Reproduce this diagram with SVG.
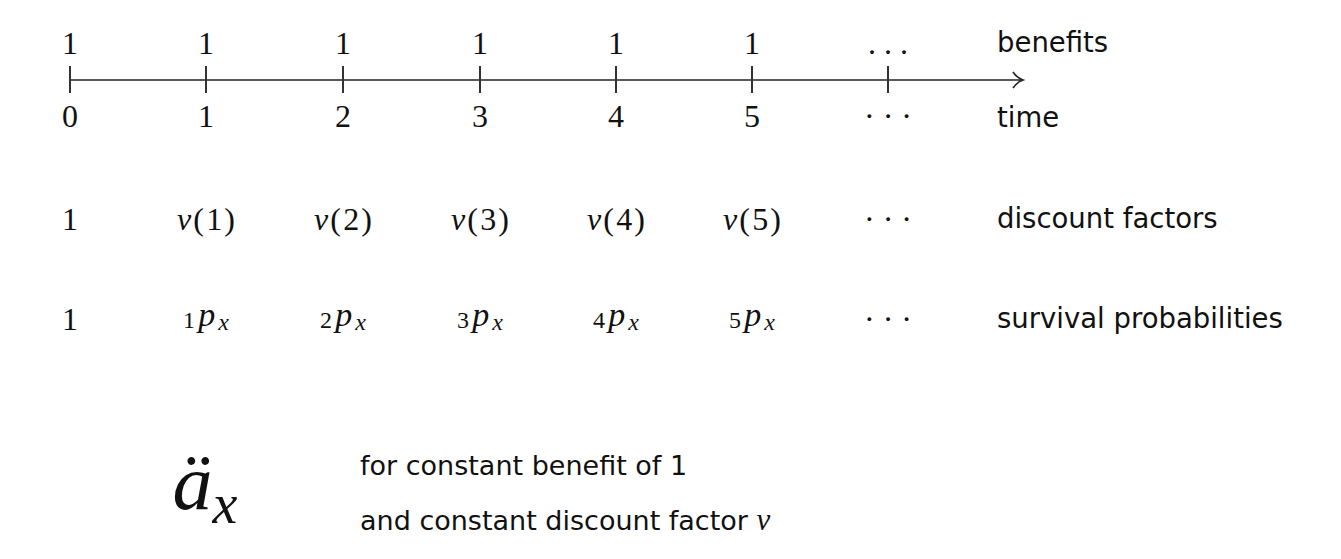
<svg xmlns="http://www.w3.org/2000/svg" width="1341" height="559" viewBox="0 0 1341 559">
<style>
.m{font-family:"Liberation Serif","Times New Roman",serif;font-size:32px;fill:#111;text-anchor:middle}
.i{font-style:italic}
.s{font-family:"DejaVu Sans","Liberation Sans",sans-serif;font-size:27.5px;fill:#111}
.b{font-family:"DejaVu Sans","Liberation Sans",sans-serif;font-size:27px;fill:#111}
.sub{font-size:24px}
.p{font-size:34px;font-style:italic}
.tick{stroke:#333;stroke-width:2}
.ax{stroke:#222;stroke-width:1.6;fill:none}
</style>
<rect width="1341" height="559" fill="#fff"/>
<g id="connectors">
<line class="ax" x1="70" y1="80" x2="1022" y2="80"/>
<path class="ax" d="M1013,72 Q1017,78 1023,80 Q1017,82 1013,88"/>
<line class="tick" x1="70" y1="66" x2="70" y2="93"/>
<line class="tick" x1="206" y1="66" x2="206" y2="93"/>
<line class="tick" x1="343" y1="66" x2="343" y2="93"/>
<line class="tick" x1="480" y1="66" x2="480" y2="93"/>
<line class="tick" x1="616" y1="66" x2="616" y2="93"/>
<line class="tick" x1="752" y1="66" x2="752" y2="93"/>
<line class="tick" x1="888" y1="66" x2="888" y2="93"/>
</g>
<g id="benefits">
<text class="m" x="70" y="54">1</text>
<text class="m" x="206" y="54">1</text>
<text class="m" x="343" y="54">1</text>
<text class="m" x="480" y="54">1</text>
<text class="m" x="616" y="54">1</text>
<text class="m" x="752" y="54">1</text>
<text class="m" x="888" y="54">. . .</text>
<text class="s" x="997" y="52">benefits</text>
</g>
<g id="time">
<text class="m" x="70" y="127">0</text>
<text class="m" x="206" y="127">1</text>
<text class="m" x="343" y="127">2</text>
<text class="m" x="480" y="127">3</text>
<text class="m" x="616" y="127">4</text>
<text class="m" x="752" y="127">5</text>
<text class="m" x="888" y="127">· · ·</text>
<text class="s" x="997" y="127">time</text>
</g>
<g id="discount">
<text class="m" x="70" y="230">1</text>
<text class="m" x="206" y="230" textLength="58" lengthAdjust="spacing"><tspan class="i">v</tspan>(1)</text>
<text class="m" x="343" y="230" textLength="58" lengthAdjust="spacing"><tspan class="i">v</tspan>(2)</text>
<text class="m" x="480" y="230" textLength="58" lengthAdjust="spacing"><tspan class="i">v</tspan>(3)</text>
<text class="m" x="616" y="230" textLength="58" lengthAdjust="spacing"><tspan class="i">v</tspan>(4)</text>
<text class="m" x="752" y="230" textLength="58" lengthAdjust="spacing"><tspan class="i">v</tspan>(5)</text>
<text class="m" x="888" y="230">· · ·</text>
<text class="s" x="997" y="228">discount factors</text>
</g>
<g id="survival">
<text class="m" x="70" y="330">1</text>
<text class="m" x="206" y="326" textLength="46" lengthAdjust="spacing"><tspan class="sub" dy="2">1</tspan><tspan class="p" dy="-2">p</tspan><tspan class="sub i" dy="4">x</tspan></text>
<text class="m" x="343" y="326" textLength="46" lengthAdjust="spacing"><tspan class="sub" dy="2">2</tspan><tspan class="p" dy="-2">p</tspan><tspan class="sub i" dy="4">x</tspan></text>
<text class="m" x="480" y="326" textLength="46" lengthAdjust="spacing"><tspan class="sub" dy="2">3</tspan><tspan class="p" dy="-2">p</tspan><tspan class="sub i" dy="4">x</tspan></text>
<text class="m" x="616" y="326" textLength="46" lengthAdjust="spacing"><tspan class="sub" dy="2">4</tspan><tspan class="p" dy="-2">p</tspan><tspan class="sub i" dy="4">x</tspan></text>
<text class="m" x="752" y="326" textLength="46" lengthAdjust="spacing"><tspan class="sub" dy="2">5</tspan><tspan class="p" dy="-2">p</tspan><tspan class="sub i" dy="4">x</tspan></text>
<text class="m" x="888" y="330">· · ·</text>
<text class="s" x="997" y="328">survival probabilities</text>
</g>
<g id="annuity">
<text class="m" x="205" y="510" style="font-size:80px"><tspan class="i">ä</tspan><tspan class="i" style="font-size:56px" dy="13">x</tspan></text>
<text class="b" x="360" y="475">for constant benefit of 1</text>
<text class="b" x="360" y="530">and constant discount factor <tspan font-family="Liberation Serif,serif" font-style="italic" style="font-size:31px">v</tspan></text>
</g>
</svg>
